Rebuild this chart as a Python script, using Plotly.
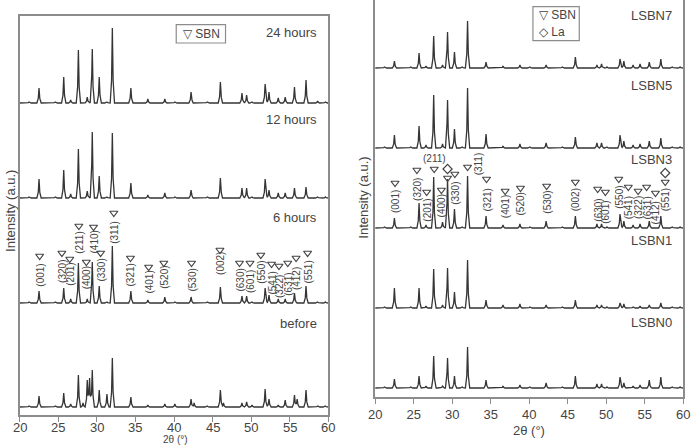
import plotly.graph_objects as go

# ---------------- data ----------------
TWO_THETA = [21.2, 22.5, 24.6, 25.7, 26.6, 27.6, 28.2, 28.75, 29.05, 29.4, 30.3, 31.3,
             32.0, 34.4, 36.6, 38.8, 40.1, 42.2, 42.6, 44.3, 46.0, 46.4, 48.8, 49.4,
             50.1, 51.8, 52.3, 53.5, 54.4, 55.6, 55.95, 57.1, 58.6, 59.6]

# left panel (sintering time)
H_24H = [1, 15, 1, 26, 3, 53, 0, 6, 0, 54, 26, 1, 75, 15, 4, 4, 1, 11, 0, 1, 21, 0, 10, 8,
         1, 19, 11, 5, 6, 16, 0, 23, 2, 1]
H_12H = [1, 19, 1, 28, 4, 49, 0, 7, 0, 66, 22, 1, 65, 15, 3, 5, 1, 8, 0, 1, 20, 0, 10, 10,
         1, 19, 8, 5, 5, 10, 0, 11, 1, 1]
H_6H = [1, 12, 1, 15, 4, 40, 0, 4, 0, 41, 17, 1, 57, 12, 3, 6, 1, 6, 0, 1, 16, 0, 7, 7,
        1, 15, 8, 4, 4, 10, 0, 17, 1, 1]
H_BEFORE = [1, 11, 1, 14, 3, 32, 4, 27, 29, 37, 17, 13, 49, 10, 2, 3, 3, 8, 4, 1, 17, 4, 4, 5,
            2, 18, 8, 2, 7, 12, 8, 17, 1, 1]
LEFT_SERIES = ["24 hours", "12 hours", "6 hours", "before"]
LEFT_OFFSETS = [312, 217, 112, 8]

# right panel (La content)
H_LSBN7 = [1, 7, 1, 15, 2, 32, 0, 3, 0, 36, 16, 1, 47, 6, 2, 3, 1, 3, 0, 1, 11, 0, 3, 4,
           1, 9, 7, 3, 4, 6, 0, 9, 1, 1]
H_LSBN5 = [1, 13, 1, 22, 3, 53, 0, 4, 0, 48, 19, 1, 60, 14, 2, 4, 1, 5, 0, 1, 11, 0, 5, 5,
           1, 13, 7, 3, 4, 7, 0, 10, 1, 1]
H_LSBN3 = [1, 10, 1, 25, 3, 51, 0, 6, 0, 49, 19, 1, 52, 12, 3, 4, 1, 7, 0, 1, 12, 0, 4, 4,
           1, 14, 7, 3, 4, 7, 0, 12, 1, 1]
H_LSBN1 = [1, 20, 1, 20, 2, 39, 0, 3, 0, 40, 16, 1, 48, 8, 3, 4, 1, 3, 0, 1, 8, 0, 3, 3,
           1, 5, 4, 1, 2, 3, 0, 5, 1, 1]
H_LSBN0 = [1, 9, 1, 12, 2, 32, 0, 2, 0, 30, 12, 1, 41, 8, 2, 3, 1, 5, 0, 1, 12, 0, 4, 4,
           1, 11, 5, 2, 3, 8, 0, 11, 1, 1]
RIGHT_SERIES = ["LSBN7", "LSBN5", "LSBN3", "LSBN1", "LSBN0"]
RIGHT_OFFSETS = [329, 249, 169, 89, 9]

X_TICKS = [20, 25, 30, 35, 40, 45, 50, 55, 60]

# hkl labels, left panel (6 hours pattern)
L_HKL = ["(001)", "(320)", "(201)", "(211)", "(400)", "(410)", "(330)", "(311)", "(321)",
         "(401)", "(520)", "(530)", "(002)", "(630)", "(601)", "(550)", "(541)", "(322)",
         "(631)", "(412)", "(551)"]
L_HKL_X = [22.58, 25.46, 26.48, 27.66, 28.63, 29.56, 30.48, 32.19, 34.35, 36.7, 38.67,
           42.26, 45.94, 48.48, 49.84, 51.24, 52.63, 53.59, 54.73, 55.81, 57.3]
L_HKL_TXT_Y = [140, 144, 141, 173, 137, 173, 145, 183, 140, 133, 138, 135, 152, 135, 133,
               143, 132, 129, 131, 136, 143]
L_TRI_Y = [159, 162, 156, 189, 153, 188, 162, 202, 157, 148, 152, 152, 165, 152, 152, 160,
           151, 149, 152, 157, 162]

# hkl labels, right panel (LSBN3 pattern)
R_HKL = ["(001)", "(320)", "(201)", "(400)", "(330)", "(311)", "(321)", "(401)", "(520)",
         "(530)", "(002)", "(630)", "(601)", "(550)", "(541)", "(322)", "(631)", "(412)",
         "(551)"]
R_HKL_X = [22.58, 25.42, 26.69, 28.6, 30.35, 33.4, 34.46, 36.88, 38.87, 42.27, 46.0, 48.9,
           49.82, 51.64, 52.88, 54.15, 55.25, 56.4, 57.67]
R_HKL_TXT_Y = [195, 208, 187, 191, 204, 233, 197, 190, 193, 195, 197, 187, 185, 200, 189,
               189, 189, 184, 197]
R_TRI_X = [22.58, 25.42, 26.69, 27.67, 28.6, 29.4, 30.35, 32.0, 34.46, 36.88, 38.87, 42.27,
           46.0, 48.9, 49.9, 51.64, 52.88, 54.15, 55.25, 56.4, 57.67]
R_TRI_Y = [214, 227, 205, 228, 207, 219, 223, 230, 218, 206, 209, 211, 215, 208, 205, 218,
           210, 206, 210, 204, 215]
R_LA_X = [29.4, 57.67]
R_LA_Y = [228, 224]

LINE = "#353535"
FRAME = "#8c8c8c"
TXT = "#444444"
FONT = "Liberation Sans, Arial, sans-serif"


def profile(heights, offset):
    # piecewise-linear peak shapes at the listed peak positions
    shape_dx = [-0.28, -0.1, 0.0, 0.1, 0.28]
    shape_f = [0.0, 0.3, 1.0, 0.3, 0.0]
    xs = sorted({20.0, 60.0} | {round(p + d, 4) for p in TWO_THETA for d in shape_dx})
    ys = []
    for x in xs:
        v = 0.0
        for p, h in zip(TWO_THETA, heights):
            if h == 0:
                continue
            d = x - p
            for i in range(4):
                a, b = shape_dx[i], shape_dx[i + 1]
                if a <= d <= b:
                    t = (d - a) / (b - a)
                    v += h * (shape_f[i] + t * (shape_f[i + 1] - shape_f[i]))
                    break
        ys.append(offset + v)
    return xs, ys


fig = go.Figure()

for name, h, off in zip(LEFT_SERIES, [H_24H, H_12H, H_6H, H_BEFORE], LEFT_OFFSETS):
    xs, ys = profile(h, off)
    fig.add_trace(go.Scatter(x=xs, y=ys, mode="lines", name=name,
                             line=dict(color=LINE, width=1.3), xaxis="x", yaxis="y",
                             showlegend=False))

for name, h, off in zip(RIGHT_SERIES, [H_LSBN7, H_LSBN5, H_LSBN3, H_LSBN1, H_LSBN0],
                        RIGHT_OFFSETS):
    xs, ys = profile(h, off)
    fig.add_trace(go.Scatter(x=xs, y=ys, mode="lines", name=name,
                             line=dict(color=LINE, width=1.3), xaxis="x2", yaxis="y2",
                             showlegend=False))

# markers
fig.add_trace(go.Scatter(x=L_HKL_X, y=L_TRI_Y, mode="markers", xaxis="x", yaxis="y",
                         marker=dict(symbol="triangle-down-open", size=7,
                                     color=TXT, line=dict(width=1.2)), showlegend=False))
fig.add_trace(go.Scatter(x=R_TRI_X, y=R_TRI_Y, mode="markers", xaxis="x2", yaxis="y2",
                         marker=dict(symbol="triangle-down-open", size=7,
                                     color=TXT, line=dict(width=1.2)), showlegend=False))
fig.add_trace(go.Scatter(x=R_LA_X, y=R_LA_Y, mode="markers", xaxis="x2", yaxis="y2",
                         marker=dict(symbol="diamond-open", size=7,
                                     color=TXT, line=dict(width=1.2)), showlegend=False))

ann = []
for t, x, y in zip(L_HKL, L_HKL_X, L_HKL_TXT_Y):
    ann.append(dict(x=x, y=y, xref="x", yref="y", text=t, textangle=-90, showarrow=False,
                    font=dict(size=10, color=TXT, family=FONT)))
for t, x, y in zip(R_HKL, R_HKL_X, R_HKL_TXT_Y):
    ann.append(dict(x=x, y=y, xref="x2", yref="y2", text=t, textangle=-90, showarrow=False,
                    font=dict(size=10, color=TXT, family=FONT)))
ann.append(dict(x=27.67, y=239, xref="x2", yref="y2", text="(211)", showarrow=False,
                font=dict(size=10, color=TXT, family=FONT)))

# series names
L_NAME_Y = [382, 295, 198, 92]
for t, y in zip(LEFT_SERIES, L_NAME_Y):
    ann.append(dict(x=58.8, y=y, xref="x", yref="y", text=t, xanchor="right",
                    showarrow=False, font=dict(size=13, color=TXT, family=FONT)))
R_NAME_Y = [382, 312, 238, 157, 75]
for t, y in zip(RIGHT_SERIES, R_NAME_Y):
    ann.append(dict(x=58.8, y=y, xref="x2", yref="y2", text=t, xanchor="right",
                    showarrow=False, font=dict(size=13, color=TXT, family=FONT)))

W, H = 698, 446


def px(xp, yp):
    return xp / W, 1 - yp / H


# left panel tick labels (placed tight under the axis)
for v in X_TICKS:
    ann.append(dict(x=v, y=1 - 418.5 / H, xref="x", yref="paper", text=str(v),
                    showarrow=False, xanchor="center", yanchor="top", borderpad=0,
                    font=dict(size=13, color=TXT, family=FONT)))

# axis titles
for (xp, yp, t, ang) in [(4, 211, "Intensity (a.u.)", -90), (364, 198, "Intensity (a.u.)", -90),
                         (533, 430, "2θ (°)", 0)]:
    x, y = px(xp, yp)
    ann.append(dict(x=x, y=y, xref="paper", yref="paper", text=t, textangle=ang,
                    showarrow=False, xanchor="center", yanchor="middle",
                    font=dict(size=13, color=TXT, family=FONT)))
ann.append(dict(x=172 / W, y=0, xref="paper", yref="paper", text="2θ (°)", showarrow=False,
                xanchor="center", yanchor="bottom", borderpad=0,
                font=dict(size=10, color=TXT, family=FONT)))

# legend boxes
shapes = []
x0, y1 = px(172.7, 24.7)
x1, y0 = px(223, 43)
shapes.append(dict(type="rect", xref="paper", yref="paper", x0=x0, x1=x1, y0=y0, y1=y1,
                   line=dict(color=FRAME, width=1.2)))
x0, y1 = px(536.7, 6.7)
x1, y0 = px(584, 40.7)
shapes.append(dict(type="rect", xref="paper", yref="paper", x0=x0, x1=x1, y0=y0, y1=y1,
                   line=dict(color=FRAME, width=1.2)))
for (xp, yp, t) in [(178, 34, "▽ SBN"), (541, 15, "▽ SBN"), (541, 32, "◇ La")]:
    x, y = px(xp, yp)
    ann.append(dict(x=x, y=y, xref="paper", yref="paper", text=t, xanchor="left",
                    yanchor="middle", showarrow=False,
                    font=dict(size=12, color=TXT, family=FONT)))

xcommon = dict(range=[20, 60], tickmode="array", tickvals=X_TICKS,
               ticks="outside", tickcolor=FRAME, tickwidth=1.2, ticklen=5,
               showline=True, linecolor=FRAME, linewidth=1.6, showgrid=False, zeroline=False,
               tickfont=dict(size=13, color=TXT, family=FONT))
ycommon = dict(showticklabels=False, ticks="", showline=True, linecolor=FRAME, linewidth=1.6,
               mirror=True, showgrid=False, zeroline=False)

fig.update_layout(
    width=W, height=H, margin=dict(l=0, r=0, t=0, b=0),
    paper_bgcolor="white", plot_bgcolor="white",
    xaxis=dict(domain=[13 / W, 328 / W], anchor="y", mirror=True, showticklabels=False,
               **xcommon),
    yaxis=dict(domain=[1 - 415 / H, 1 - 15.7 / H], anchor="x", range=[0, 399.3], **ycommon),
    xaxis2=dict(domain=[375.7 / W, 690 / W], anchor="y2", mirror=False, **xcommon),
    yaxis2=dict(domain=[1 - 397 / H, 1], anchor="x2", range=[0, 397], **ycommon),
    annotations=ann, shapes=shapes, showlegend=False,
)

fig.write_html("out.html")
